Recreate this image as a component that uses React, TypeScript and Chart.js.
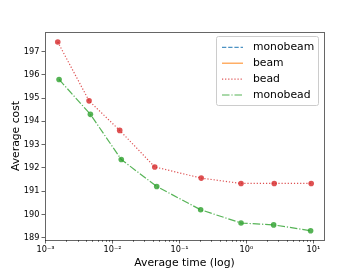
import React, { useEffect, useRef } from "react";
import { Chart, registerables } from "chart.js";

Chart.register(...registerables);

const seriesNames = ["monobeam", "beam", "bead", "monobead"];
const seriesColors = [
  "rgba(31,119,180,0.8)",
  "rgba(255,127,14,0.8)",
  "rgba(214,39,40,0.8)",
  "rgba(44,160,44,0.8)",
];
const seriesDashes: number[][] = [[4.3, 1.9], [], [1.2, 1.9], [7.5, 1.9, 1.2, 1.9]];

const monobeamTime: number[] = [];
const monobeamCost: number[] = [];
const beamTime: number[] = [];
const beamCost: number[] = [];
const beadTime = [0.00152, 0.00446, 0.0128, 0.0427, 0.211, 0.83, 2.6, 9.27];
const beadCost = [197.41, 194.88, 193.61, 192.04, 191.56, 191.33, 191.33, 191.33];
const monobeadTime = [0.00159, 0.00467, 0.0135, 0.0457, 0.207, 0.83, 2.55, 9.08];
const monobeadCost = [195.8, 194.3, 192.36, 191.2, 190.2, 189.63, 189.55, 189.3];

const xMajorTicks = [1e-3, 1e-2, 1e-1, 1e0, 1e1];
const yTicks = [189, 190, 191, 192, 193, 194, 195, 196, 197];
const xTitle = "Average time (log)";
const yTitle = "Average cost";

const supMap: Record<string, string> = {
  "-": "⁻", "0": "⁰", "1": "¹", "2": "²", "3": "³", "4": "⁴",
  "5": "⁵", "6": "⁶", "7": "⁷", "8": "⁸", "9": "⁹",
};
const sup = (n: number) => String(n).split("").map((c) => supMap[c] || c).join("");

const FONT = "'DejaVu Sans', sans-serif";
const AXIS_COLOR = "rgba(0,0,0,0.6)";

const toPoints = (xs: number[], ys: number[]) => xs.map((x, i) => ({ x, y: ys[i] }));

export default function App() {
  const ref = useRef<HTMLCanvasElement | null>(null);

  useEffect(() => {
    if (!ref.current) return;
    const allData = [
      toPoints(monobeamTime, monobeamCost),
      toPoints(beamTime, beamCost),
      toPoints(beadTime, beadCost),
      toPoints(monobeadTime, monobeadCost),
    ];

    const framePlugin = {
      id: "frameAndLegend",
      afterDraw(chart: any) {
        const ctx = chart.ctx as CanvasRenderingContext2D;
        const a = chart.chartArea;
        const xs = chart.scales.x;
        ctx.save();
        // minor ticks on x
        ctx.strokeStyle = AXIS_COLOR;
        ctx.lineWidth = 0.8;
        for (let e = -4; e <= 1; e++) {
          for (let m = 2; m <= 9; m++) {
            const v = m * Math.pow(10, e);
            const px = xs.getPixelForValue(v);
            if (px < a.left - 0.1 || px > a.right + 0.1) continue;
            ctx.beginPath();
            ctx.moveTo(Math.round(px) + 0.5, a.bottom);
            ctx.lineTo(Math.round(px) + 0.5, a.bottom + 2);
            ctx.stroke();
          }
        }
        // frame
        ctx.lineWidth = 1;
        ctx.strokeStyle = AXIS_COLOR;
        ctx.strokeRect(Math.round(a.left) + 0.5, Math.round(a.top) + 0.5, Math.round(a.right - a.left), Math.round(a.bottom - a.top));

        // legend
        const bx = 216.5, by = 36.5, bw = 102, bh = 69;
        ctx.fillStyle = "rgba(255,255,255,0.8)";
        ctx.strokeStyle = "rgba(204,204,204,1)";
        ctx.lineWidth = 1;
        ctx.beginPath();
        if ((ctx as any).roundRect) (ctx as any).roundRect(bx, by, bw, bh, 2);
        else ctx.rect(bx, by, bw, bh);
        ctx.fill();
        ctx.stroke();
        const rowY = [47.3, 63.2, 79.1, 95];
        chart.data.datasets.forEach((ds: any, i: number) => {
          const y = rowY[i];
          ctx.strokeStyle = ds.borderColor;
          ctx.lineWidth = 1.2;
          ctx.setLineDash(ds.borderDash || []);
          ctx.beginPath();
          ctx.moveTo(222, y);
          ctx.lineTo(243, y);
          ctx.stroke();
          ctx.setLineDash([]);
          ctx.fillStyle = "#000";
          ctx.font = `10.8px ${FONT}`;
          ctx.textBaseline = "middle";
          ctx.textAlign = "left";
          ctx.fillText(ds.label, 253, y);
        });
        ctx.restore();
      },
    };

    const chart = new Chart(ref.current, {
      type: "line",
      data: {
        datasets: seriesNames.map((name, i) => ({
          label: name,
          data: allData[i],
          borderColor: seriesColors[i],
          backgroundColor: seriesColors[i],
          pointBackgroundColor: seriesColors[i],
          pointBorderColor: seriesColors[i],
          borderDash: seriesDashes[i],
          borderWidth: 1.2,
          pointRadius: 2.8,
          pointBorderWidth: 0,
          tension: 0,
          fill: false,
        })),
      },
      options: {
        animation: false,
        responsive: false,
        layout: { padding: { top: 32, right: 36, left: 0, bottom: 0 } },
        plugins: { legend: { display: false }, tooltip: { enabled: false } },
        scales: {
          x: {
            type: "logarithmic",
            min: 0.00098,
            max: 14.4,
            afterBuildTicks: (s: any) => {
              s.ticks = xMajorTicks.map((v) => ({ value: v }));
            },
            afterFit: (s: any) => {
              s.height = 30;
            },
            ticks: {
              autoSkip: false,
              maxRotation: 0,
              padding: 1.5,
              color: "#000",
              font: { family: FONT, size: 8.2 },
              callback: (v: any) => "10" + sup(Math.round(Math.log10(Number(v)))),
            },
            grid: {
              display: true,
              drawOnChartArea: false,
              drawTicks: true,
              tickLength: 3.5,
              tickColor: AXIS_COLOR,
              tickWidth: 1,
            },
            border: { display: false },
            title: {
              display: true,
              text: xTitle,
              color: "#000",
              font: { family: FONT, size: 10.8 },
              padding: { top: 2, bottom: 0 },
            },
          },
          y: {
            type: "linear",
            min: 188.9,
            max: 197.84,
            afterBuildTicks: (s: any) => {
              s.ticks = yTicks.map((v) => ({ value: v }));
            },
            afterFit: (s: any) => {
              s.width = 45;
            },
            ticks: {
              autoSkip: false,
              padding: 2,
              color: "#000",
              font: { family: FONT, size: 8.2 },
              callback: (v: any) => String(v),
            },
            grid: {
              display: true,
              drawOnChartArea: false,
              drawTicks: true,
              tickLength: 3.5,
              tickColor: AXIS_COLOR,
              tickWidth: 1,
            },
            border: { display: false },
            title: {
              display: true,
              text: yTitle,
              color: "#000",
              font: { family: FONT, size: 10.8 },
              padding: { top: 9.5, bottom: 0 },
            },
          },
        },
      },
      plugins: [framePlugin],
    } as any);

    return () => chart.destroy();
  }, []);

  return (
    <div style={{ position: "absolute", left: 0, top: 0, width: 360, height: 270, background: "#fff" }}>
      <canvas ref={ref} width={360} height={270} style={{ display: "block" }} />
    </div>
  );
}
